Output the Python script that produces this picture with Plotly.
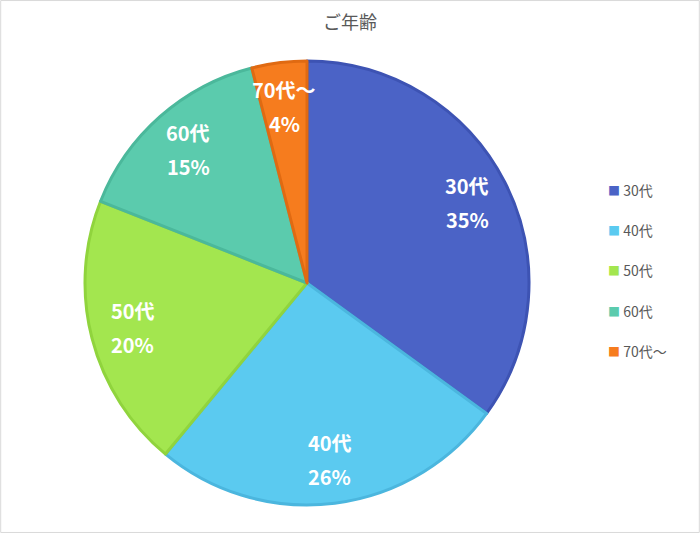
import math
import plotly.graph_objects as go

categories = ["30代", "40代", "50代", "60代", "70代～"]
values = [35, 26, 20, 15, 4]
fill_colors = ["#4B63C6", "#5BCAF0", "#A3E64F", "#5BCBAD", "#F67C1E"]
edge_colors = ["#3D53B3", "#4BB6DE", "#90D43D", "#4BB89B", "#E06A12"]

FONT = "Noto Sans CJK JP"
W, H = 700, 533
CX, CY, R = 307, 283, 222  # pie centre / radius in pixels

fig = go.Figure()
fig.add_trace(go.Pie(
    labels=categories,
    values=values,
    sort=False,
    direction="clockwise",
    rotation=0,
    marker=dict(colors=fill_colors, line=dict(color=edge_colors, width=3)),
    textinfo="none",
    showlegend=False,
    domain=dict(x=[(CX - R) / W, (CX + R) / W], y=[1 - (CY + R) / H, 1 - (CY - R) / H]),
    hoverinfo="label+percent",
))

# data labels placed at the middle angle of each slice (Excel style)
total = sum(values)
cum = 0
annotations = []
for cat, v in zip(categories, values):
    mid = (cum + v / 2) / total * 2 * math.pi
    cum += v
    px = CX + 0.81 * R * math.sin(mid)
    py = CY - 0.80 * R * math.cos(mid)
    pct = f"{round(v / total * 100)}%"
    for txt, shift in ((cat, 17), (pct, -17)):
        annotations.append(dict(
            x=px / W, y=1 - py / H, xref="paper", yref="paper",
            text=txt, showarrow=False, yshift=shift,
            font=dict(family=FONT, size=20, color="white", weight="bold"),
            xanchor="center", yanchor="middle",
        ))

for i, (cat, col) in enumerate(zip(categories, fill_colors)):
    fig.add_trace(go.Scatter(
        x=[None], y=[None], mode="markers",
        name=f'<span style="color:{col};font-size:12px">■</span> {cat}',
        marker=dict(symbol="square", size=1, color="rgba(0,0,0,0)"),
        legendgroup=f"g{i}", showlegend=True,
    ))

fig.update_layout(
    width=W, height=H,
    margin=dict(l=0, r=0, t=0, b=0),
    paper_bgcolor="white", plot_bgcolor="white",
    title=dict(text="ご年齢", x=0.5, xanchor="center", y=1 - 23 / H, yanchor="middle",
               font=dict(family=FONT, size=18, color="#595959")),
    xaxis=dict(visible=False), yaxis=dict(visible=False),
    annotations=annotations,
    legend=dict(x=568 / W, xanchor="left", y=1 - 175 / H, yanchor="top",
                font=dict(family=FONT, size=14, color="#595959"),
                tracegroupgap=19, itemwidth=30, bgcolor="rgba(0,0,0,0)"),
    shapes=[dict(type="rect", xref="paper", yref="paper", x0=0.001, y0=0.001, x1=0.999, y1=0.999,
                 line=dict(color="#D9D9D9", width=1))],
)

fig.write_html("out.html", config={"displayModeBar": False},
               post_script="document.body.style.margin='0';document.body.style.padding='0';")
